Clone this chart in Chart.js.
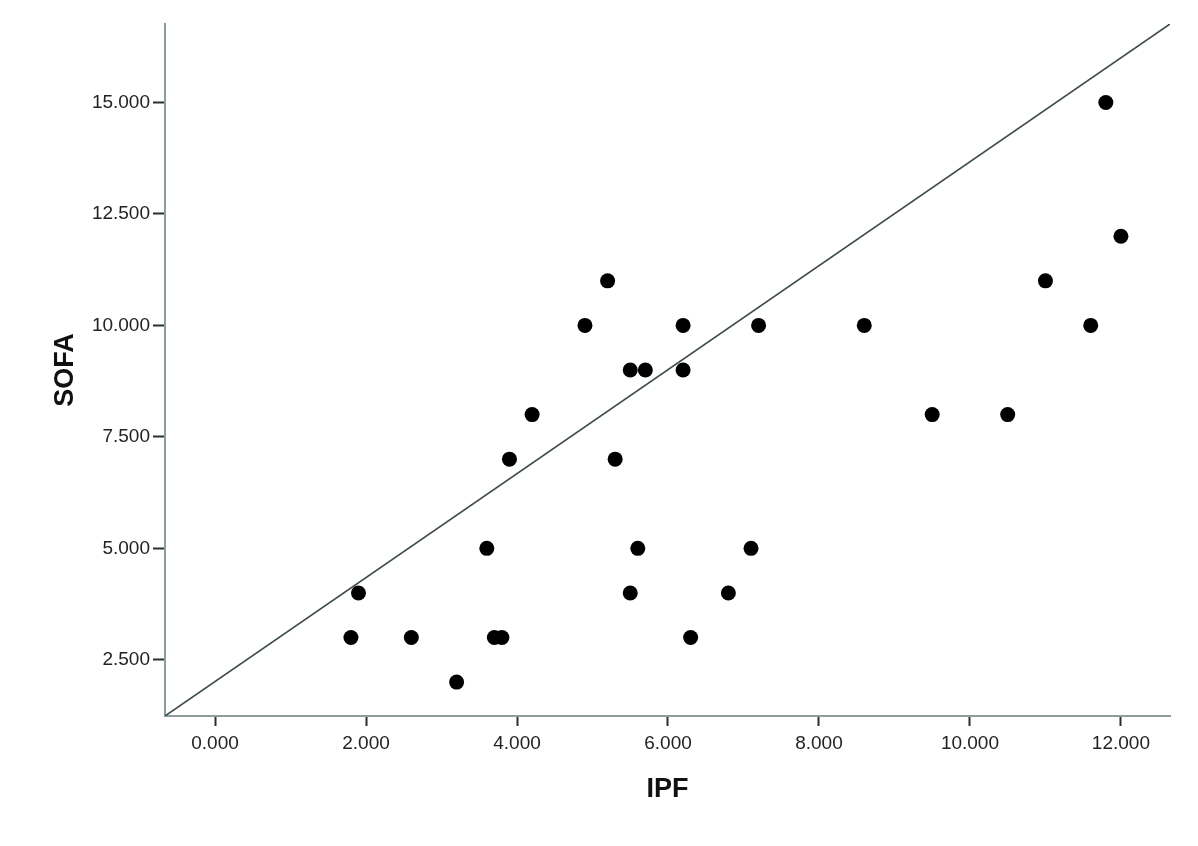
<!DOCTYPE html>
<html lang="en">
<head>
    <meta charset="UTF-8">
    <title>SOFA vs IPF</title>
    <script src="https://cdn.jsdelivr.net/npm/chart.js"></script>
    <style>
        html, body { margin: 0; padding: 0; background: #fff; }
        #wrap { width: 1198px; height: 846px; }
    </style>
</head>
<body>
    <div id="wrap"><canvas id="chart" width="1198" height="846"></canvas></div>

    <script>
        // scatter values
        const ipf = [1.8, 1.9, 2.6, 3.2, 3.6, 3.7, 3.8, 3.9, 4.2, 4.9, 5.2, 5.3, 5.5, 5.5, 5.6,
                     5.7, 6.2, 6.2, 6.3, 6.8, 7.1, 7.2, 8.6, 9.5, 10.5, 11.0, 11.6, 11.8, 12.0];
        const sofa = [3, 4, 3, 2, 5, 3, 3, 7, 8, 10, 11, 7, 9, 4, 5,
                      9, 10, 9, 3, 4, 5, 10, 10, 8, 8, 11, 10, 15, 12];

        // reference line (corner to corner)
        const lineX = [-0.663, 12.65];
        const lineY = [1.24, 16.76];

        const xTicks = [0, 2, 4, 6, 8, 10, 12];
        const yTicks = [2.5, 5, 7.5, 10, 12.5, 15];

        const points = ipf.map((x, i) => ({ x: x, y: sofa[i] }));
        const linePts = lineX.map((x, i) => ({ x: x, y: lineY[i] }));

        const axisColor = '#8d9c9c';
        const tickColor = '#2a2f2f';
        const labelFont = { family: 'Liberation Sans, Arial, sans-serif', size: 19 };
        const titleFont = { family: 'Liberation Sans, Arial, sans-serif', size: 27, weight: 'bold' };

        new Chart(document.getElementById('chart'), {
            type: 'scatter',
            data: {
                datasets: [
                    {
                        type: 'line',
                        data: linePts,
                        borderColor: '#3c4a4a',
                        borderWidth: 1.6,
                        pointRadius: 0,
                        fill: false
                    },
                    {
                        data: points,
                        backgroundColor: '#000',
                        borderColor: '#000',
                        pointRadius: 7.5,
                        borderWidth: 0
                    }
                ]
            },
            options: {
                responsive: false,
                animation: false,
                layout: { padding: { top: 24, right: 28, left: 0, bottom: 0 } },
                plugins: { legend: { display: false }, tooltip: { enabled: false } },
                scales: {
                    x: {
                        type: 'linear',
                        min: lineX[0],
                        max: lineX[1],
                        afterBuildTicks: s => { s.ticks = xTicks.map(v => ({ value: v })); },
                        afterFit: s => { s.height = 130; },
                        border: { color: axisColor, width: 2 },
                        grid: { drawOnChartArea: false, drawTicks: true, tickLength: 10, tickColor: tickColor, tickWidth: 2 },
                        ticks: {
                            color: '#222',
                            font: labelFont,
                            padding: 6,
                            maxRotation: 0,
                            callback: v => v.toFixed(3)
                        },
                        title: { display: true, text: 'IPF', color: '#111', font: titleFont, padding: { bottom: 40 } }
                    },
                    y: {
                        type: 'linear',
                        min: lineY[0],
                        max: lineY[1],
                        afterBuildTicks: s => { s.ticks = yTicks.map(v => ({ value: v })); },
                        afterFit: s => { s.width = 165; },
                        border: { color: axisColor, width: 2 },
                        grid: { drawOnChartArea: false, drawTicks: true, tickLength: 12, tickColor: tickColor, tickWidth: 2 },
                        ticks: {
                            color: '#222',
                            font: labelFont,
                            padding: 3,
                            callback: v => v.toFixed(3)
                        },
                        title: { display: true, text: 'SOFA', color: '#111', font: titleFont, padding: { top: 49 } }
                    }
                }
            }
        });
    </script>
</body>
</html>
